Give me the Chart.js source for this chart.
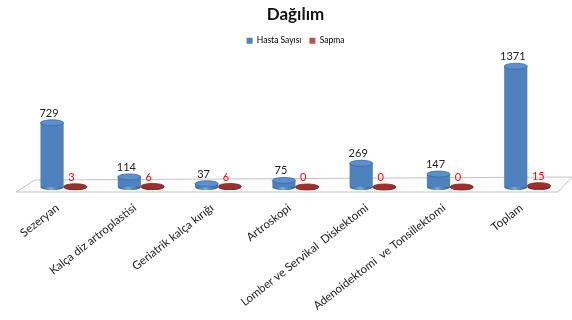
<!DOCTYPE html>
<html>
<head>
<meta charset="utf-8">
<script src="https://cdn.jsdelivr.net/npm/chart.js@4.4.1/dist/chart.umd.min.js"></script>
<style>
  html, body { margin: 0; padding: 0; background: #fff; }
  #wrap { width: 572px; height: 320px; position: relative; }
</style>
</head>
<body>
<div id="wrap"><canvas id="distChart"></canvas></div>
<script>
// --- Data ---
const categories = [
  'Sezeryan',
  'Kalça diz artroplastisi',
  'Geriatrik kalça kırığı',
  'Artroskopi',
  'Lomber ve Servikal  Diskektomi',
  'Adenoidektomi  ve Tonsillektomi',
  'Toplam'
];
const hastaSayisi = [729, 114, 37, 75, 269, 147, 1371];
const sapma = [3, 6, 6, 0, 0, 0, 15];

// --- Cylinder gradient helpers ---
function cylGradient(ctx, x, w, dark, mid, light) {
  const g = ctx.createLinearGradient(x - w / 2, 0, x + w / 2, 0);
  g.addColorStop(0, dark);
  g.addColorStop(0.45, light);
  g.addColorStop(0.7, mid);
  g.addColorStop(1, dark);
  return g;
}

const palette = [
  { dark: '#2c5a92', mid: '#4a7fc0', light: '#78a8e0', top: '#5b8fd0', rim: '#3a6aa6', label: '#222' },
  { dark: '#7a1f1d', mid: '#9a2e2b', light: '#b2403c', top: '#9e302c', rim: '#7d2522', label: '#ff0000' }
];

// --- Floor plugin ---
const floorPlugin = {
  id: 'floor',
  beforeDatasetsDraw(chart) {
    const { ctx, chartArea: ca } = chart;
    const fy = ca.bottom + 5, by = ca.bottom - 7;
    ctx.save();
    ctx.beginPath();
    ctx.moveTo(ca.left - 9, fy);
    ctx.lineTo(ca.left + 10, by);
    ctx.lineTo(chart.width, by - 3);
    ctx.lineTo(ca.right - 8, fy);
    ctx.closePath();
    ctx.fillStyle = '#fcfcfc';
    ctx.fill();
    ctx.strokeStyle = '#c4c4c4';
    ctx.lineWidth = 1;
    ctx.stroke();
    ctx.restore();
  }
};

// --- Cylinder caps + value labels ---
const cylinderPlugin = {
  id: 'cylinders',
  afterDatasetsDraw(chart) {
    const { ctx } = chart;
    chart.data.datasets.forEach((ds, di) => {
      const meta = chart.getDatasetMeta(di);
      const p = palette[di];
      meta.data.forEach((bar, i) => {
        const { x, y, base, width } = bar.getProps(['x', 'y', 'base', 'width'], true);
        const rx = width / 2, ry = width * 0.13;
        ctx.save();
        // bottom half-ellipse
        ctx.beginPath();
        ctx.ellipse(x, base, rx, ry, 0, 0, Math.PI);
        ctx.fillStyle = cylGradient(ctx, x, width, p.dark, p.mid, p.light);
        ctx.fill();
        // top ellipse
        ctx.beginPath();
        ctx.ellipse(x, y, rx, ry, 0, 0, Math.PI * 2);
        ctx.fillStyle = p.top;
        ctx.fill();
        ctx.strokeStyle = p.rim;
        ctx.lineWidth = 0.8;
        ctx.stroke();
        // value label
        ctx.fillStyle = p.label;
        ctx.font = '11px Lato, "Open Sans", sans-serif';
        ctx.textAlign = di === 0 ? 'center' : 'left';
        ctx.textBaseline = 'bottom';
        const lx = di === 0 ? x - 3 : x - 7;
        ctx.fillText(String(ds.data[i]), lx, y - ry - 1);
        ctx.restore();
      });
    });
  }
};

const ctx = document.getElementById('distChart');

new Chart(ctx, {
  type: 'bar',
  data: {
    labels: categories,
    datasets: [
      {
        label: 'Hasta Sayısı',
        data: hastaSayisi,
        backgroundColor: c => {
          const el = c.element;
          if (!el || el.x === undefined) return '#4f81bd';
          return cylGradient(c.chart.ctx, el.x, el.width || 22, palette[0].dark, palette[0].mid, palette[0].light);
        }
      },
      {
        label: 'Sapma',
        data: sapma,
        backgroundColor: c => {
          const el = c.element;
          if (!el || el.x === undefined) return '#c0504d';
          return cylGradient(c.chart.ctx, el.x, el.width || 22, palette[1].dark, palette[1].mid, palette[1].light);
        }
      }
    ]
  },
  options: {
    responsive: true,
    maintainAspectRatio: false,
    animation: false,
    layout: { padding: { left: 25, right: 6, top: 2, bottom: 0 } },
    datasets: { bar: { categoryPercentage: 0.6, barPercentage: 1.0, borderWidth: 0 } },
    plugins: {
      title: {
        display: true,
        text: 'Dağılım',
        color: '#111',
        font: { family: 'Lato, "Open Sans", sans-serif', size: 17, weight: 'bold' },
        padding: { top: 2, bottom: 4 }
      },
      legend: {
        display: true,
        labels: {
          boxWidth: 6,
          boxHeight: 6,
          padding: 8,
          color: '#333',
          font: { family: 'Lato, "Open Sans", sans-serif', size: 8.5 },
          generateLabels: chart => chart.data.datasets.map((ds, i) => ({
            text: ds.label,
            fillStyle: i === 0 ? '#4f81bd' : '#c0504d',
            strokeStyle: i === 0 ? '#4f81bd' : '#c0504d',
            lineWidth: 0,
            datasetIndex: i
          }))
        }
      },
      tooltip: { enabled: false }
    },
    scales: {
      x: {
        grid: { display: false },
        border: { display: false },
        afterFit: scale => { scale.height = 133; },
        ticks: {
          color: '#222',
          padding: 6,
          labelOffset: -6,
          minRotation: 38,
          maxRotation: 38,
          autoSkip: false,
          font: { family: 'Lato, "Open Sans", sans-serif', size: 11.5 }
        }
      },
      y: {
        display: false,
        min: 0,
        max: 1500
      }
    }
  },
  plugins: [floorPlugin, cylinderPlugin]
});
</script>
</body>
</html>
